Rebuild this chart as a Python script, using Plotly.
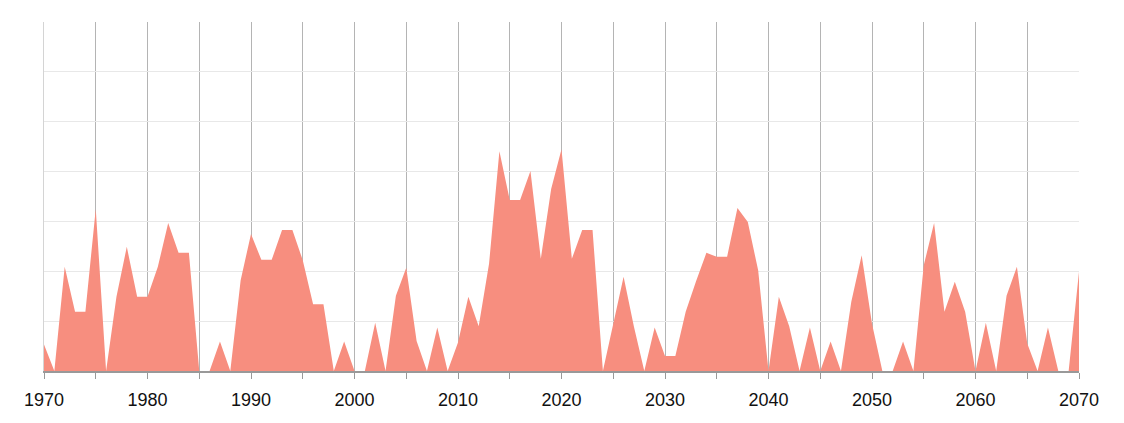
import plotly.graph_objects as go

years = list(range(1970, 2071))
values = [
    5.3, 0, 20.9, 11.9, 11.9, 32.5, 0, 14.9, 24.9, 14.9,
    14.9, 20.9, 29.7, 23.7, 23.7, 0, 0, 5.9, 0, 18.2,
    27.5, 22.3, 22.3, 28.3, 28.3, 22.2, 13.4, 13.4, 0, 5.9,
    0, 0, 9.7, 0, 15.1, 20.7, 6.0, 0, 8.7, 0,
    5.7, 14.9, 9.0, 21.5, 44.1, 34.3, 34.3, 40.1, 22.5, 36.5,
    44.5, 22.5, 28.3, 28.3, 0, 9.8, 18.9, 8.9, 0, 8.7,
    3.0, 3.0, 11.9, 18.0, 23.7, 22.9, 22.9, 32.7, 29.9, 20.2,
    0, 14.9, 9.0, 0, 8.7, 0, 5.9, 0, 13.9, 23.2,
    9.5, 0, 0, 5.9, 0, 21.2, 29.7, 11.9, 17.9, 11.9,
    0, 9.7, 0, 15.1, 20.9, 5.5, 0, 8.7, 0, 0,
    19.9,
]
tick_vals = list(range(1970, 2071, 10))
tick_text = [str(v) for v in tick_vals]

fig = go.Figure()
fig.add_trace(go.Scatter(
    x=years, y=values, mode="lines", fill="tozeroy",
    line=dict(color="#F78E7F", width=0), fillcolor="#F78E7F",
    hoverinfo="x+y",
))

fig.update_layout(
    width=1124, height=423,
    margin=dict(l=36, r=53, t=14, b=60),
    paper_bgcolor="white", plot_bgcolor="white",
    showlegend=False,
    font=dict(family="Liberation Sans, Open Sans, sans-serif", size=18, color="#111"),
    xaxis=dict(
        range=[1970, 2070],
        tickmode="array", tickvals=tick_vals, ticktext=tick_text,
        ticks="outside", ticklen=6, tickcolor="#999", tickwidth=1,
        showline=True, linecolor="#999", linewidth=1.5,
        showgrid=True, gridcolor="#b4b4b4", gridwidth=1,
        minor=dict(dtick=5, tick0=1970, ticks="outside", ticklen=6, tickcolor="#999",
                   showgrid=True, gridcolor="#b4b4b4", gridwidth=1),
        zeroline=False, mirror=False,
        tickfont=dict(size=18),
        ticklabelstandoff=6,
    ),
    yaxis=dict(
        range=[0, 70], dtick=10, showticklabels=False,
        showgrid=True, gridcolor="#e8e8e8", gridwidth=1,
        zeroline=False, showline=True, linecolor="#d4d4d4", linewidth=1,
        ticks="",
    ),
)

fig.write_html("out.html")
